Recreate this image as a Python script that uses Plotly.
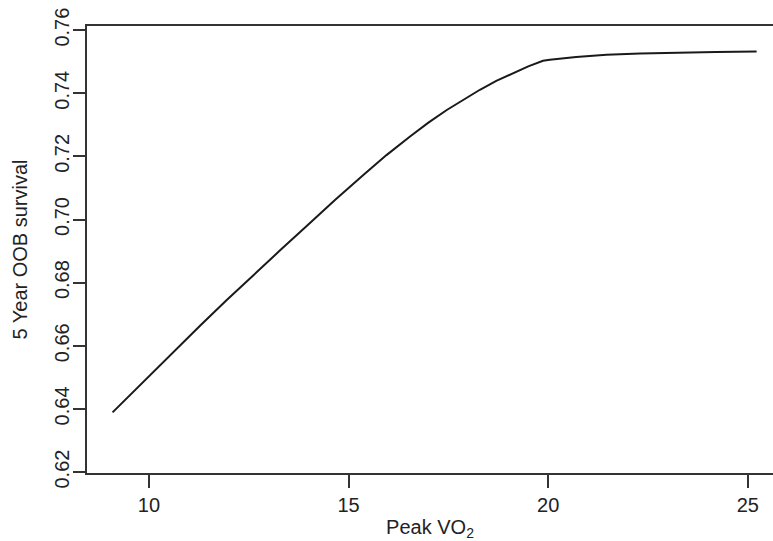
import plotly.graph_objects as go

peak_vo2 = [9.09, 10.0, 10.69, 11.3, 11.95, 12.6, 13.3, 14.0, 14.66, 15.37, 15.95, 16.54, 17.0, 17.46, 17.9, 18.29, 18.7, 19.12, 19.5, 19.87, 20.04, 20.7, 21.46, 22.3, 23.12, 24.2, 25.22]
survival = [0.6389, 0.6503, 0.6592, 0.6666, 0.6745, 0.6823, 0.6904, 0.6985, 0.7062, 0.7141, 0.7204, 0.7263, 0.7307, 0.7347, 0.7381, 0.7411, 0.7439, 0.7464, 0.7485, 0.7503, 0.7506, 0.7515, 0.7522, 0.7526, 0.7529, 0.7531, 0.7532]
x_ticks = [10, 15, 20, 25]
y_ticks = [0.62, 0.64, 0.66, 0.68, 0.70, 0.72, 0.74, 0.76]
y_labels = ["0.62", "0.64", "0.66", "0.68", "0.70", "0.72", "0.74", "0.76"]

FONT = "Liberation Sans, Arial, Helvetica, sans-serif"
FS = 20

fig = go.Figure()
fig.add_trace(go.Scatter(x=peak_vo2, y=survival, mode="lines",
                         line=dict(color="#1a1a1a", width=2),
                         showlegend=False, hoverinfo="skip"))

fig.update_layout(
    width=773, height=541,
    margin=dict(l=87, r=0, t=26, b=68),
    paper_bgcolor="white", plot_bgcolor="white",
    font=dict(family=FONT, size=FS, color="#222222"),
)
fig.update_xaxes(
    range=[8.45, 25.63], tickvals=x_ticks, ticktext=[str(v) for v in x_ticks],
    showgrid=False, zeroline=False, showline=True, linecolor="#333333", linewidth=1.5,
    mirror=True, ticks="outside", ticklen=13, tickwidth=1.5, tickcolor="#333333",
    tickfont=dict(family=FONT, size=FS, color="#222222"),
    title=dict(text="Peak VO<sub>2</sub>", font=dict(family=FONT, size=FS, color="#222222"), standoff=5),
)
fig.update_yaxes(
    range=[0.6197, 0.7613], tickvals=y_ticks, ticktext=y_labels,
    showgrid=False, zeroline=False, showline=True, linecolor="#333333", linewidth=1.5,
    ticks="outside", ticklen=12, tickwidth=1.5, tickcolor="#333333", tickangle=-90,
    ticklabelstandoff=-4,
    tickfont=dict(family=FONT, size=FS, color="#222222"),
    title=dict(text="5 Year OOB survival", font=dict(family=FONT, size=FS, color="#222222"), standoff=18),
)
fig.write_html("out.html")
